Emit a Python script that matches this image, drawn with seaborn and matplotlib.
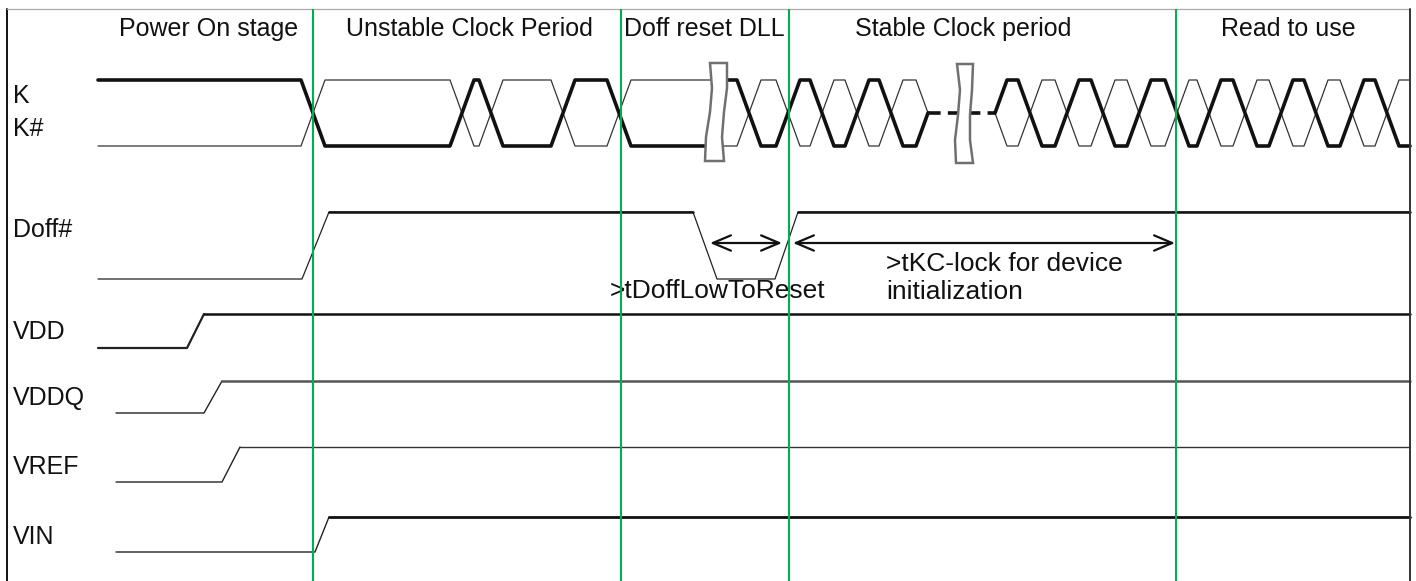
import pandas as pd
import matplotlib.pyplot as plt
import seaborn as sns
from matplotlib.patches import Polygon

# phase headers and the green boundaries between them
phases = ["Power On stage", "Unstable Clock Period", "Doff reset DLL",
          "Stable Clock period", "Read to use"]
phase_x = [209, 469, 704, 963, 1288]
phase_bounds = [313, 621, 789, 1176]

signal_names = ["K", "K#", "Doff#", "VDD", "VDDQ", "VREF", "VIN"]
label_y = [96, 129, 230, 332, 398, 467, 537]

# clock K (thick) / K# (thin): crossing positions of K
clk_hi, clk_lo = 80, 146
seg1_edges = [313, 462, 491, 563, 619]            # K starts high at 98
seg2_edges = [749, 788, 822, 857, 891]            # after first break, K high
seg3_edges = [1030, 1067, 1103, 1139, 1177, 1209,
              1245, 1281, 1316, 1352, 1387]       # after second break

# Doff# trace
doff_x = [98, 302, 329, 693, 717, 775, 798, 1410]
doff_lvl = [0, 0, 1, 1, 0, 0, 1, 1]
doff_hi, doff_lo = 212, 279

# supply rails: low start, rise start, rise end, high y, low y
rail_names = ["VDD", "VDDQ", "VREF", "VIN"]
rail_start = [98, 116, 116, 116]
rail_rise0 = [187, 204, 222, 315]
rail_rise1 = [204, 222, 240, 329]
rail_high = [314, 381, 447, 517]
rail_low = [348, 413, 482, 552]

sns.set_theme(style="white")
plt.rcParams["font.family"] = ["Liberation Sans", "DejaVu Sans"]

fig = plt.figure(figsize=(14.16, 5.81), dpi=100)
ax = fig.add_axes([0, 0, 1, 1])
ax.set_xlim(0, 1416)
ax.set_ylim(581, 0)
ax.axis("off")


def wave(x0, x1, start, edges, w=24):
    xs, ys, lvl = [x0], [start], start
    for e in edges:
        xs += [e - w / 2, e + w / 2]
        ys += [lvl, 1 - lvl]
        lvl = 1 - lvl
    xs.append(x1)
    ys.append(lvl)
    return xs, ys


def to_y(levels, hi, lo):
    return [lo + v * (hi - lo) for v in levels]


def draw(xs, ys, color, lw, **kw):
    df = pd.DataFrame({"x": xs, "y": ys})
    sns.lineplot(data=df, x="x", y="y", sort=False, estimator=None,
                 color=color, lw=lw, ax=ax, **kw)


# clock segments
segs = []
xs, ys = wave(98, 712, 1, seg1_edges)
segs.append((xs, ys))
xs, ys = wave(720, 916, 1, seg2_edges)
xs.append(928)
ys.append(0.5)
segs.append((xs, ys))
xs, ys = wave(1007, 1410, 1, seg3_edges)
xs = [995] + xs
ys = [0.5] + ys
segs.append((xs, ys))
for xs, ys in segs:
    draw(xs, to_y([1 - v for v in ys], clk_hi, clk_lo), "#333333", 0.9)
    draw(xs, to_y(ys, clk_hi, clk_lo), "#111111", 2.6)
draw([928, 995], [113, 113], "#111111", 2.6, linestyle=(0, (3.5, 2)))

# break symbols
brk1 = [(710, 63), (712, 88), (710, 112), (706, 137), (705, 161),
        (724, 161), (722, 137), (724, 112), (727, 88), (727, 63)]
brk2 = [(957, 64), (960, 90), (958, 115), (955, 140), (956, 163),
        (973, 163), (970, 140), (970, 115), (972, 90), (973, 64)]
for pts in (brk1, brk2):
    ax.add_patch(Polygon(pts, closed=True, facecolor="white",
                         edgecolor="#707070", lw=1.8, zorder=5))

# Doff#
draw(doff_x, to_y(doff_lvl, doff_hi, doff_lo), "#222222", 0.9)
draw(doff_x[2:4], [doff_hi] * 2, "#111111", 1.8)
draw(doff_x[6:8], [doff_hi] * 2, "#111111", 1.8)

# rails
rail_style = {"VDD": ("#111111", 1.8), "VDDQ": ("#555555", 1.8),
              "VREF": ("#333333", 1.0), "VIN": ("#111111", 2.0)}
for i, name in enumerate(rail_names):
    draw([rail_start[i], rail_rise0[i], rail_rise1[i]],
         [rail_low[i], rail_low[i], rail_high[i]], "#222222",
         1.6 if name == "VDD" else 1.0)
    c, lw = rail_style[name]
    draw([rail_rise1[i], 1410], [rail_high[i]] * 2, c, lw)

# frame and phase boundaries
ax.plot([7, 7], [9, 581], color="#111111", lw=1.4)
ax.plot([7, 1410], [9, 9], color="#aaaaaa", lw=0.9)
ax.plot([1410, 1410], [9, 581], color="#333333", lw=1.4)
ax.vlines(phase_bounds, 9, 581, color="#00B050", lw=1.5, zorder=6)

for name, x in zip(phases, phase_x):
    ax.text(x, 29, name, ha="center", va="center", fontsize=18, color="#111111")
for name, y in zip(signal_names, label_y):
    ax.text(13, y, name, ha="left", va="center", fontsize=18, color="#111111")

# timing arrows and notes
arr = dict(arrowstyle="<->,head_length=1.3,head_width=0.55", lw=1.6,
           color="#111111", shrinkA=0, shrinkB=0, mutation_scale=10)
ax.annotate("", xy=(710, 243), xytext=(782, 243), arrowprops=arr)
ax.annotate("", xy=(793, 243), xytext=(1175, 243), arrowprops=arr)
ax.text(610, 291, ">tDoffLowToReset", ha="left", va="center", fontsize=19,
        color="#111111")
ax.text(886, 264, ">tKC-lock for device", ha="left", va="center", fontsize=19,
        color="#111111")
ax.text(886, 292, "initialization", ha="left", va="center", fontsize=19,
        color="#111111")

fig.savefig("out.png", dpi=100)
